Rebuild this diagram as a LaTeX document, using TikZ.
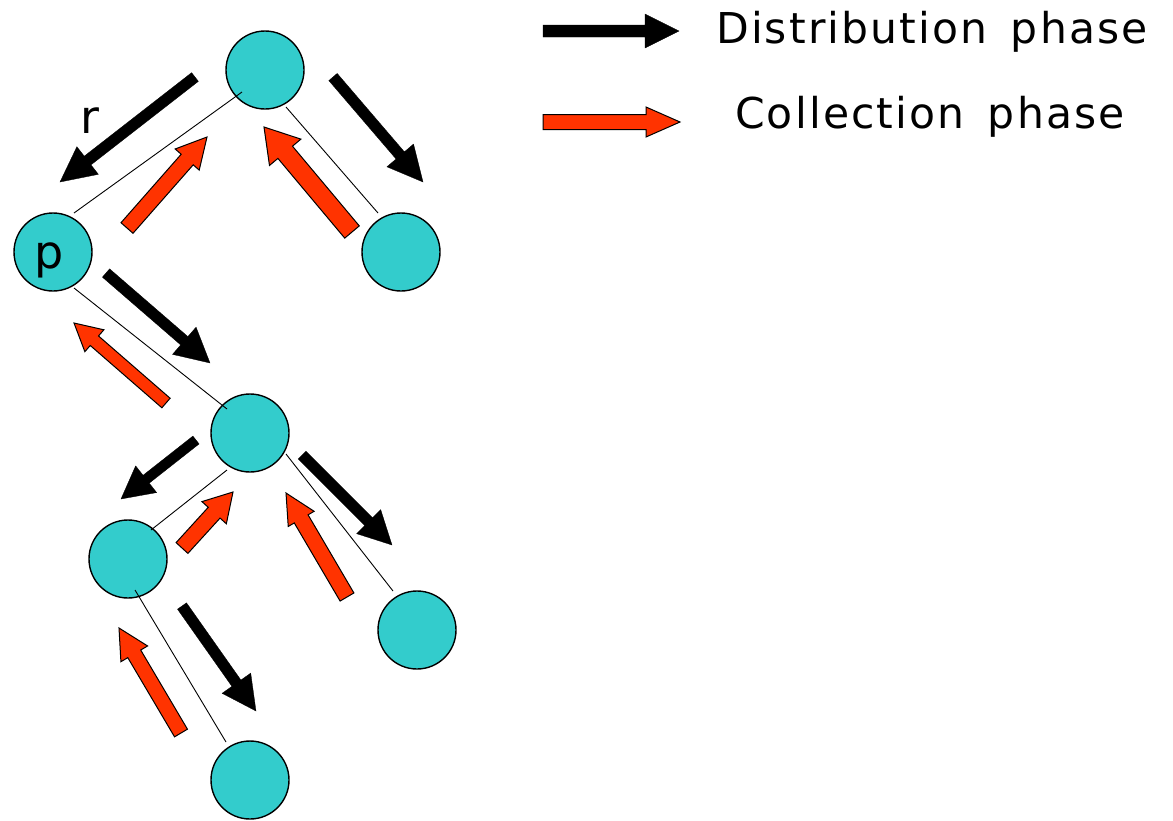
\documentclass[tikz,border=0pt]{standalone}
\usepackage{fontspec}
\setmainfont{DejaVu Sans}
\newfontfamily\legendfont[LetterSpace=5, WordSpace=1.5]{DejaVu Sans}
\usetikzlibrary{calc}
\definecolor{nodecyan}{RGB}{51,204,204}
\definecolor{collred}{RGB}{255,51,0}
\tikzset{
  treenode/.style={circle, draw=black, line width=1.4pt, fill=nodecyan, minimum size=78pt, inner sep=0pt},
  treeedge/.style={line width=0.9pt, draw=black},
  distarrow/.style={fill=black, draw=black, line width=0.3pt},
  collarrow/.style={fill=collred, draw=black, line width=1pt},
  lbl/.style={font=\fontsize{46pt}{55pt}\selectfont, inner sep=0pt},
  legendlbl/.style={font=\legendfont\fontsize{42.5pt}{50pt}\selectfont, inner sep=0pt},
}
% #1 style, #2 tail, #3 tip, #4 shaft half width, #5 head half width, #6 head length, #7 name
\newcommand{\blockarrow}[7]{%
  \coordinate (#7-b) at ($(#3)!#6!(#2)$);
  \path[#1] ($(#2)!#4!90:(#3)$) -- ($(#7-b)!#4!-90:(#2)$) -- ($(#7-b)!#5!-90:(#2)$)
     -- (#3) -- ($(#7-b)!#5!90:(#2)$) -- ($(#7-b)!#4!90:(#2)$) -- ($(#2)!#4!-90:(#3)$) -- cycle;
}
\begin{document}
\begin{tikzpicture}[x=1pt,y=-1pt]
\useasboundingbox (0,0) rectangle (1173,820);
% tree nodes
\node[treenode] (A) at (265,70) {};
\node[treenode] (P) at (53,252) {};
\node[treenode] (B) at (401,252) {};
\node[treenode] (C) at (250,433) {};
\node[treenode] (D) at (128,559) {};
\node[treenode] (E) at (417,630) {};
\node[treenode] (F) at (250,780) {};
% tree edges
\draw[treeedge] ($(A)+(-23,22)$) -- ($(P)+(21,-39)$);
\draw[treeedge] ($(A)+(21,37)$) -- ($(B)+(-23,-39)$);
\draw[treeedge] ($(P)+(21,36)$) -- ($(C)+(-23,-24)$);
\draw[treeedge] ($(C)+(-23,37)$) -- ($(D)+(23,-29)$);
\draw[treeedge] ($(C)+(36,21)$) -- ($(E)+(-24,-39)$);
\draw[treeedge] ($(D)+(7,31)$) -- ($(F)+(-24,-38)$);
% labels
\node[lbl, anchor=base] (rlab) at (90,133) {r};
\node[lbl, anchor=base] (plab) at (49,268) {p};
% distribution arrows
\coordinate (d1t) at (195,77);  \coordinate (d1h) at (60,182);
\coordinate (d2t) at (333,77);  \coordinate (d2h) at (423,182);
\coordinate (d3t) at (106,273); \coordinate (d3h) at (210,363);
\coordinate (d4t) at (196,440); \coordinate (d4h) at (121,499);
\coordinate (d5t) at (302,455); \coordinate (d5h) at (392,545);
\coordinate (d6t) at (182,606); \coordinate (d6h) at (256,711);
\blockarrow{distarrow}{d1t}{d1h}{5.5pt}{17.5pt}{35pt}{d1}
\blockarrow{distarrow}{d2t}{d2h}{5.5pt}{17.5pt}{35pt}{d2}
\blockarrow{distarrow}{d3t}{d3h}{5.5pt}{18pt}{34pt}{d3}
\blockarrow{distarrow}{d4t}{d4h}{5pt}{17pt}{32pt}{d4}
\blockarrow{distarrow}{d5t}{d5h}{5.5pt}{17pt}{33pt}{d5}
\blockarrow{distarrow}{d6t}{d6h}{5.5pt}{17.5pt}{34pt}{d6}
% collection arrows
\coordinate (c1t) at (127,228); \coordinate (c1h) at (207,137);
\coordinate (c2t) at (352,232); \coordinate (c2h) at (264,127);
\coordinate (c3t) at (166,403); \coordinate (c3h) at (74,323);
\coordinate (c4t) at (182,548); \coordinate (c4h) at (233,492);
\coordinate (c5t) at (347,597); \coordinate (c5h) at (286,493);
\coordinate (c6t) at (181,733); \coordinate (c6h) at (119,628);
\blockarrow{collarrow}{c1t}{c1h}{8pt}{16pt}{30pt}{c1}
\blockarrow{collarrow}{c2t}{c2h}{9.5pt}{20.5pt}{33pt}{c2}
\blockarrow{collarrow}{c3t}{c3h}{6.3pt}{14.5pt}{27pt}{c3}
\blockarrow{collarrow}{c4t}{c4h}{8pt}{16.5pt}{28pt}{c4}
\blockarrow{collarrow}{c5t}{c5h}{8pt}{15pt}{30pt}{c5}
\blockarrow{collarrow}{c6t}{c6h}{7.5pt}{15.5pt}{30pt}{c6}
% legend
\coordinate (ldt) at (543,31);  \coordinate (ldh) at (679,31);
\coordinate (lct) at (543,122); \coordinate (lch) at (680,122);
\blockarrow{distarrow}{ldt}{ldh}{6pt}{17pt}{34pt}{ld}
\blockarrow{collarrow}{lct}{lch}{7.5pt}{15pt}{34pt}{lc}
\node[legendlbl, anchor=base west] (dlab) at (716,43) {Distribution phase};
\node[legendlbl, anchor=base west] (clab) at (735,128) {Collection phase};
\end{tikzpicture}
\end{document}
